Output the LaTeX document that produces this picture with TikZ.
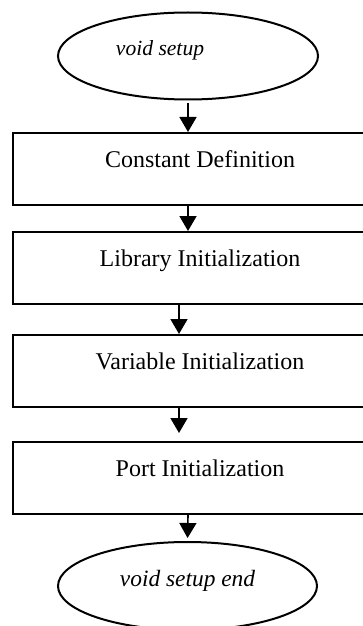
\documentclass[tikz,border=0pt]{standalone}
\usepackage{fontspec}
\setmainfont{Liberation Serif}
\usetikzlibrary{arrows.meta,shapes.geometric}
\begin{document}
\begin{tikzpicture}[x=0.5pt,y=-0.5pt,
  stepbox/.style={draw,line width=1pt,rectangle,minimum width=187pt,
    inner xsep=0pt,inner ysep=0pt,text height=17pt,text depth=19pt,
    anchor=north,font=\fontsize{12}{14}\selectfont},
  terminal/.style={draw,line width=1pt,ellipse,inner sep=0pt,
    text height=5pt,text depth=5pt},
  flow/.style={line width=0.8pt,-{Triangle[width=8.5pt,length=7.5pt]}}]
\path[use as bounding box] (0,0) rectangle (363,626);
\clip (0,0) rectangle (363,626);
\node[terminal,minimum width=130pt,minimum height=43.5pt,
  font=\fontsize{10.8}{12}\selectfont\itshape] (top) at (188,56)
  {void setup\kern28pt\relax};
\node[stepbox] (box1) at (200,132) {Constant Definition};
\node[stepbox] (box2) at (200,231) {Library Initialization};
\node[stepbox] (box3) at (200,334) {Variable Initialization};
\node[stepbox] (box4) at (200,441) {Port Initialization};
\node[terminal,minimum width=129.5pt,minimum height=44pt,
  font=\fontsize{11.7}{14}\selectfont\itshape] (bot) at (187.5,586)
  {void setup end};
\draw[flow,shorten <=1.5pt] (top.south) -- ([xshift=-6pt]box1.north);
\draw[flow] ([xshift=-6pt]box1.south) -- ([xshift=-6pt]box2.north);
\draw[flow] ([xshift=-10.5pt]box2.south) -- ([xshift=-10.5pt]box3.north);
\draw[flow,shorten >=4pt] ([xshift=-10.5pt]box3.south) -- ([xshift=-10.5pt]box4.north);
\draw[flow,shorten >=1.5pt] ([xshift=-6pt]box4.south) -- (bot.north);
\end{tikzpicture}
\end{document}
